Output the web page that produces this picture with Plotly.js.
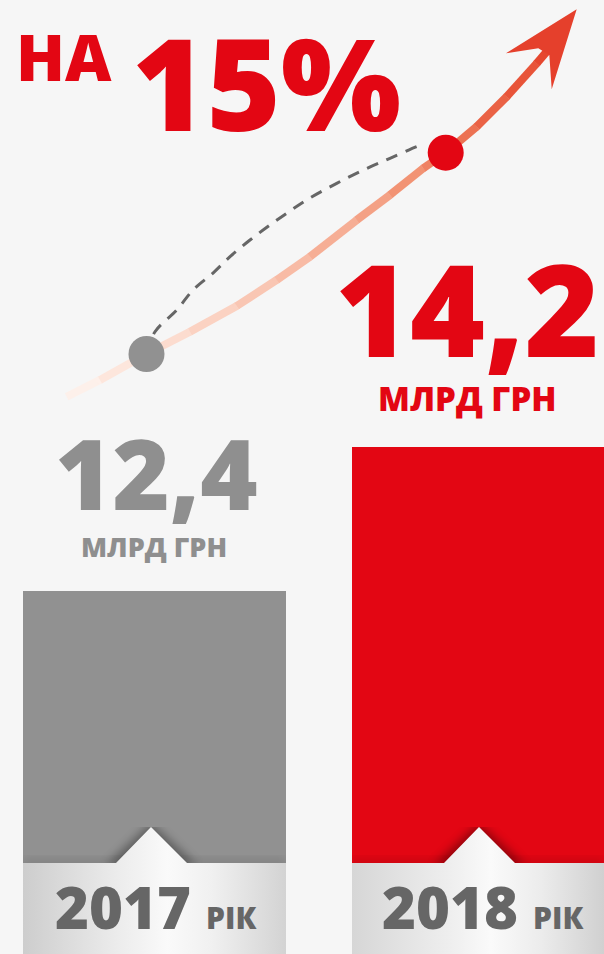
<!DOCTYPE html>
<html>
<head>
<meta charset="utf-8">
<script src="https://cdn.plot.ly/plotly-3.0.1.min.js"></script>
<style>html,body{margin:0;padding:0;background:#f6f6f6;}#chart{width:604px;height:954px;}</style>
</head>
<body>
<div id="chart"></div>
<script>
// ---- data ----
const categories = ['2017', '2018'];
const values = [12.4, 14.2];
const unitLabel = 'МЛРД ГРН';
const yearSuffix = 'РІК';
const growthPrefix = 'НА';

// decorative trend graphic (x: 0 = 2017 point, 1 = 2018 point; y in value units)
const trendCurveX = [-0.2667, -0.1554, 0, 0.1454, 0.3015, 0.4352, 0.5465, 0.7025, 0.8138, 0.9251, 1.0, 1.1036, 1.2039, 1.3042, 1.3376];
const trendCurveY = [12.018, 12.168, 12.4, 12.599, 12.829, 13.062, 13.270, 13.598, 13.822, 14.061, 14.2, 14.433, 14.701, 14.999, 15.103];
const dashX = [0, 0.0284, 0.1009, 0.1554, 0.2223, 0.2791, 0.3459, 0.4128, 0.4796, 0.5465, 0.6357, 0.7246, 0.8138, 0.9031, 0.9241];
const dashY = [12.4, 12.599, 12.793, 12.972, 13.124, 13.270, 13.419, 13.554, 13.679, 13.795, 13.926, 14.045, 14.150, 14.254, 14.275];
const arrowX = [1.4378, 1.2015, 1.3095, 1.3463, 1.3543, 1.4378];
const arrowY = [15.482, 15.089, 15.134, 15.074, 14.767, 15.482];

// ---- styles ----
const RED = '#e30613';
const GRAY = '#919191';
const segColors = ['#fdf0ea', '#fde6dc', '#fcdccf', '#fbd2c2', '#f9c6b3', '#f8bba5', '#f6ae95', '#f4a185', '#f29374', '#ef8263', '#ec7253', '#ea6245', '#e85439', '#e6472f'];

const W = 604, H = 954;
const px = p => p / W;
const py = p => 1 - p / H;

const traces = [];
traces.push({
  type: 'bar', x: categories, y: values, width: 0.8,
  marker: {color: [GRAY, RED], line: {width: 0}},
  xaxis: 'x', yaxis: 'y', hoverinfo: 'skip'
});

for (let i = 0; i < trendCurveX.length - 1; i++) {
  traces.push({
    type: 'scatter', mode: 'lines+markers',
    x: [trendCurveX[i], trendCurveX[i + 1]], y: [trendCurveY[i], trendCurveY[i + 1]],
    line: {color: segColors[i], width: 8},
    marker: {color: segColors[i], size: [0, 7.6], line: {width: 0}},
    xaxis: 'x2', yaxis: 'y2', hoverinfo: 'skip'
  });
}
traces.push({
  type: 'scatter', mode: 'lines', x: dashX, y: dashY,
  line: {color: '#666666', width: 3, dash: '12px,9px', shape: 'spline', smoothing: 1},
  xaxis: 'x2', yaxis: 'y2', hoverinfo: 'skip'
});
traces.push({
  type: 'scatter', mode: 'lines', x: arrowX, y: arrowY, fill: 'toself',
  fillcolor: '#e5402c', line: {width: 0, color: '#e5402c'},
  xaxis: 'x2', yaxis: 'y2', hoverinfo: 'skip'
});
traces.push({
  type: 'scatter', mode: 'markers', x: [0, 1], y: values,
  marker: {color: [GRAY, RED], size: 36, line: {width: 0}},
  xaxis: 'x2', yaxis: 'y2', hoverinfo: 'skip'
});

function bandSvg(w, nl, na, nr, stops) {
  const h = 127, top = 36;
  const path = `M0,${top} L${nl},${top} L${na},0 L${nr},${top} L${w},${top} L${w},${h} L0,${h} Z`;
  const st = stops.map(s => `<stop offset="${s[0]}" stop-color="${s[1]}"/>`).join('');
  const svg = `<svg xmlns="http://www.w3.org/2000/svg" width="${w}" height="${h}" viewBox="0 0 ${w} ${h}" preserveAspectRatio="none">` +
    `<defs><linearGradient id="g" x1="0" y1="0" x2="1" y2="0">${st}</linearGradient>` +
    `<filter id="b" x="-20%" y="-50%" width="140%" height="200%"><feGaussianBlur stdDeviation="5"/></filter></defs>` +
    `<path d="M${nl - 10},${top + 2} L${na},-4 L${nr + 10},${top + 2} Z" fill="#000" opacity="0.35" filter="url(#b)"/>` +
    `<rect x="0" y="${top - 4}" width="${w}" height="8" fill="#000" opacity="0.12" filter="url(#b)"/>` +
    `<path d="${path}" fill="url(#g)"/></svg>`;
  return 'data:image/svg+xml;charset=utf-8,' + encodeURIComponent(svg);
}

const images = [
  {source: bandSvg(263, 93, 128, 164, [[0, '#cdcdcd'], [0.35, '#ebebeb'], [0.55, '#fafafa'], [0.72, '#f0f0f0'], [1, '#d3d3d3']]),
   xref: 'paper', yref: 'paper', x: px(23), y: py(827), sizex: 263 / W, sizey: 127 / H,
   xanchor: 'left', yanchor: 'top', sizing: 'stretch', layer: 'above'},
  {source: bandSvg(252, 92, 127, 163, [[0, '#d6d6d6'], [0.4, '#efefef'], [0.55, '#fafafa'], [0.75, '#ececec'], [1, '#d0d0d0']]),
   xref: 'paper', yref: 'paper', x: px(352), y: py(827), sizex: 252 / W, sizey: 127 / H,
   xanchor: 'left', yanchor: 'top', sizing: 'stretch', layer: 'above'}
];

const fmt = v => v.toFixed(1).replace('.', ',');
const growth = Math.round((values[1] / values[0] - 1) * 100);

function ann(text, x, y, size, color, weight) {
  return {text, xref: 'paper', yref: 'paper', x: px(x), y: py(y), xanchor: 'center', yanchor: 'middle',
    showarrow: false, font: {family: 'Open Sans', size, color, weight}};
}

const annotations = [
  ann(growthPrefix, 63.5, 56, 64, RED, 800),
  ann(growth + '%', 266.5, 81.5, 127, RED, 800),
  ann(fmt(values[1]), 467, 307, 128, RED, 800),
  ann(unitLabel, 467, 398.5, 33, RED, 800),
  ann(fmt(values[0]), 156, 472, 98, '#8f8f8f', 800),
  ann(unitLabel, 154, 546.5, 27, '#8f8f8f', 800),
  ann(categories[0] + ' <span style="font-size:30px">' + yearSuffix + '</span>', 156, 906, 58, '#666666', 800),
  ann(categories[1] + ' <span style="font-size:30px">' + yearSuffix + '</span>', 483, 906, 58, '#666666', 800)
];

const layout = {
  width: W, height: H,
  margin: {l: 0, r: 0, t: 0, b: 0, pad: 0},
  paper_bgcolor: '#f6f6f6', plot_bgcolor: 'rgba(0,0,0,0)',
  showlegend: false, hovermode: false, bargap: 0,
  xaxis: {type: 'category', range: [-0.4703, 1.3683], visible: false, fixedrange: true},
  yaxis: {range: [7.8625, 19.7875], visible: false, fixedrange: true},
  xaxis2: {range: [-0.48964, 1.52907], overlaying: 'x', visible: false, fixedrange: true},
  yaxis2: {range: [7.0347, 15.5655], overlaying: 'y', visible: false, fixedrange: true},
  images, annotations
};

Plotly.newPlot('chart', traces, layout, {displayModeBar: false, staticPlot: true});
</script>
</body>
</html>
